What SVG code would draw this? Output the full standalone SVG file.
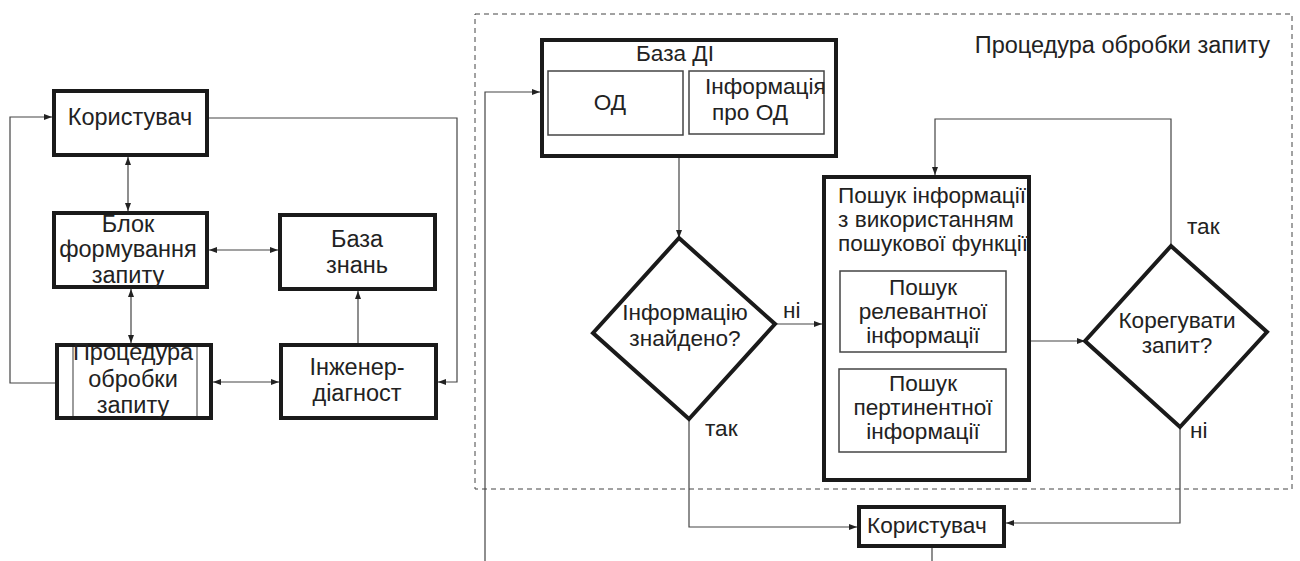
<svg xmlns="http://www.w3.org/2000/svg" width="1300" height="561" viewBox="0 0 1300 561">
<style>
.box{fill:#fff;stroke:#1a1a1a;stroke-width:4}
.inner{fill:#fff;stroke:#444;stroke-width:1.5}
.thin{fill:none;stroke:#666;stroke-width:1.3}
.c{fill:none;stroke:#444;stroke-width:1.2}
.t{font-family:"Liberation Sans",Arial,sans-serif;font-size:23.5px;fill:#222}
.s{font-family:"Liberation Sans",Arial,sans-serif;font-size:22.6px;fill:#222}
.m{text-anchor:middle}
.dash{fill:none;stroke:#444;stroke-width:1;stroke-dasharray:5 4}
</style>
<defs>
<marker id="a" viewBox="0 0 8 6" refX="8" refY="3" markerWidth="8" markerHeight="6" markerUnits="userSpaceOnUse" orient="auto-start-reverse">
<path d="M0,0 L8,3 L0,6 z" fill="#222"/>
</marker>
</defs>
<rect class="dash" x="475" y="14" width="817" height="475"/>
<text class="t" x="1270" y="53" text-anchor="end">Процедура обробки запиту</text>
<g id="connectors">
<path class="c" d="M128,157 L128,211" marker-start="url(#a)" marker-end="url(#a)"/>
<path class="c" d="M131,289 L131,343" marker-start="url(#a)" marker-end="url(#a)"/>
<path class="c" d="M209,250 L278,250" marker-start="url(#a)" marker-end="url(#a)"/>
<path class="c" d="M213,382 L279,382" marker-start="url(#a)" marker-end="url(#a)"/>
<path class="c" d="M358,343 L358,291" marker-end="url(#a)"/>
<path class="c" d="M209,118 L457,118 L457,382 L438,382" marker-end="url(#a)"/>
<path class="c" d="M55,383 L10,383 L10,117 L52,117" marker-end="url(#a)"/>
<path class="c" d="M615,135 L615,145 L757,145 L757,134" marker-start="url(#a)" marker-end="url(#a)"/>
<path class="c" d="M485,561 L485,92 L540,92" marker-end="url(#a)"/>
<path class="c" d="M679,158 L679,238" marker-end="url(#a)"/>
<path class="c" d="M775,324 L822,324" marker-end="url(#a)"/>
<path class="c" d="M689,419 L689,527 L857,527" marker-end="url(#a)"/>
<path class="c" d="M1031,341 L1085,341" marker-end="url(#a)"/>
<path class="c" d="M1171,246 L1171,119 L935,119 L935,175" marker-end="url(#a)"/>
<path class="c" d="M1180,427 L1180,523 L1006,523" marker-end="url(#a)"/>
<path class="c" d="M932,548 L932,561"/>
<text class="s" x="783" y="318">ні</text>
<text class="s" x="705" y="436">так</text>
<text class="s" x="1187" y="234">так</text>
<text class="s" x="1190" y="438">ні</text>
</g>
<g id="user1">
<rect class="box" x="54" y="91" width="153" height="64"/>
<text class="t m" x="130" y="125">Користувач</text>
</g>
<g id="query-block">
<rect class="box" x="54" y="213" width="153" height="74"/>
<text class="t m" x="128" y="232">Блок</text>
<text class="t m" x="128" y="257">формування</text>
<text class="t m" x="128" y="283">запиту</text>
</g>
<g id="knowledge-base">
<rect class="box" x="280" y="215" width="155" height="74"/>
<text class="t m" x="357" y="247">База</text>
<text class="t m" x="357" y="273">знань</text>
</g>
<g id="procedure">
<rect class="box" x="57" y="345" width="154" height="73"/>
<line class="thin" x1="73" y1="347" x2="73" y2="416"/>
<line class="thin" x1="197" y1="347" x2="197" y2="416"/>
<text class="t m" x="133" y="360">Процедура</text>
<text class="t m" x="133" y="387">обробки</text>
<text class="t m" x="133" y="413">запиту</text>
</g>
<g id="engineer">
<rect class="box" x="281" y="345" width="155" height="73"/>
<text class="t m" x="357" y="375">Інженер-</text>
<text class="t m" x="357" y="401">діагност</text>
</g>
<g id="db-di">
<rect class="box" x="542" y="40" width="294" height="116"/>
<text class="s m" x="675" y="61">База ДІ</text>
<rect class="inner" x="548" y="71" width="135" height="64"/>
<text class="s m" x="610" y="110">ОД</text>
<rect class="inner" x="689" y="71" width="135" height="63"/>
<text class="s" x="705" y="94">Інформація</text>
<text class="s" x="712" y="120">про ОД</text>
</g>
<g id="decision-found">
<polygon class="box" points="679,238 775,324 689,419 593,333"/>
<text class="s m" x="685" y="320">Інформацію</text>
<text class="s m" x="685" y="346">знайдено?</text>
</g>
<g id="search">
<rect class="box" x="824" y="177" width="205" height="303"/>
<text class="s" x="838" y="203">Пошук інформації</text>
<text class="s" x="838" y="227">з використанням</text>
<text class="s" x="838" y="251">пошукової функції</text>
<rect class="inner" x="840" y="271" width="166" height="81"/>
<text class="s m" x="923" y="295">Пошук</text>
<text class="s m" x="923" y="319">релевантної</text>
<text class="s m" x="923" y="343">інформації</text>
<rect class="inner" x="839" y="369" width="167" height="83"/>
<text class="s m" x="923" y="391">Пошук</text>
<text class="s m" x="923" y="415">пертинентної</text>
<text class="s m" x="923" y="439">інформації</text>
</g>
<g id="decision-correct">
<polygon class="box" points="1171,246 1267,332 1180,427 1085,341"/>
<text class="s m" x="1177" y="328">Корегувати</text>
<text class="s m" x="1177" y="353">запит?</text>
</g>
<g id="user2">
<rect class="box" x="859" y="507" width="145" height="39"/>
<text class="s" x="867" y="533">Користувач</text>
</g>
</svg>
